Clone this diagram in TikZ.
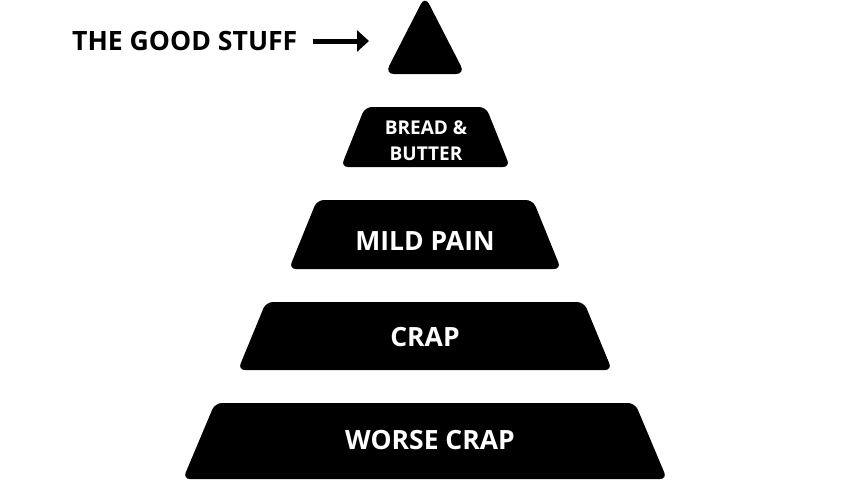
\documentclass[tikz,border=0pt]{standalone}
\usepackage{fontspec}
\setmainfont{Open Sans}
\usetikzlibrary{arrows.meta}
\begin{document}
\begin{tikzpicture}[x=1pt,y=-1pt,
  tier/.style={fill=black, rounded corners=7pt},
  tiertext/.style={text=white, inner sep=0pt, font=\bfseries\fontsize{26.5}{30}\selectfont},
  pointer/.style={line width=5pt, -{Triangle[length=12pt,width=21pt]}}]
\useasboundingbox (0,0) rectangle (850,479);
\fill[white] (0,0) rectangle (850,479);
% top triangle
\fill[tier, rounded corners=9pt] (425,-4) -- (465,74) -- (385,74) -- cycle;
\coordinate (top) at (425,40);
% bread & butter
\fill[tier] (365,107) -- (486,107) -- (510,167) -- (341,167) -- cycle;
% mild pain
\fill[tier] (317,200) -- (533,200) -- (561,269) -- (289,269) -- cycle;
% crap
\fill[tier] (266,302) -- (584,302) -- (612,370) -- (238,370) -- cycle;
% worse crap
\fill[tier] (215,403) -- (635,403) -- (667,479) -- (183,479) -- cycle;
% labels
\node[inner sep=0pt, font=\bfseries\fontsize{26.6}{30}\selectfont, anchor=west] (good) at (72,41) {THE GOOD STUFF};
\coordinate (tip) at (369,41);
\draw[pointer] ([xshift=15pt]good.east) -- (tip);
\node[tiertext, font=\bfseries\fontsize{19}{26}\selectfont, align=center] (bread) at (426,141) {BREAD \&\\BUTTER};
\node[tiertext] (mild) at (425,240.5) {MILD PAIN};
\node[tiertext] (crap) at (425,337) {CRAP};
\node[tiertext] (worse) at (430,440.5) {WORSE CRAP};
\end{tikzpicture}
\end{document}
